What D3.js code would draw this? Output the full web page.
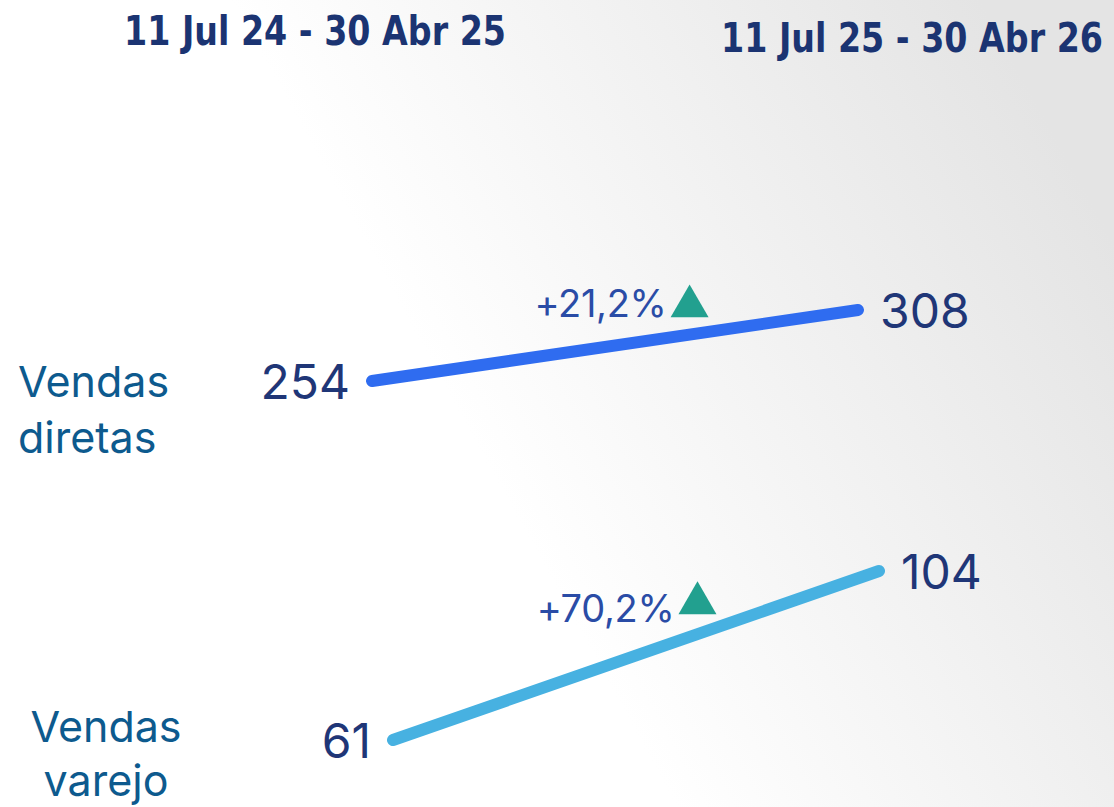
<!DOCTYPE html>
<html>
<head>
<meta charset="utf-8">
<script src="https://cdn.jsdelivr.net/npm/d3@7"></script>
<style>
  html, body { margin: 0; padding: 0; background: #fff; }
  svg { display: block; }
</style>
</head>
<body>
<div id="chart"></div>
<script>
// periods (column headers) and categories
const periods = ["11 Jul 24 - 30 Abr 25", "11 Jul 25 - 30 Abr 26"];
const categories = ["Vendas diretas", "Vendas varejo"];
const startValues = [254, 61];
const endValues = [308, 104];
const changeLabels = ["+21,2%", "+70,2%"];

const W = 1114, H = 807;
const lineColors = ["#2f6cf0", "#47b1e1"];

const svg = d3.select("#chart").append("svg")
    .attr("width", W).attr("height", H);

// background: white on the left fading to light grey on the right
const defs = svg.append("defs");
const grad = defs.append("linearGradient").attr("id", "bg")
    .attr("x1", "0").attr("y1", "0.7").attr("x2", "1").attr("y2", "0.3");
grad.append("stop").attr("offset", "0.42").attr("stop-color", "#ffffff");
grad.append("stop").attr("offset", "1").attr("stop-color", "#e4e4e4");
svg.append("rect").attr("width", W).attr("height", H).attr("fill", "url(#bg)");

// header x positions and line x positions
const xHead = d3.scalePoint().domain(periods).range([315, 912]);
const x = d3.scalePoint().domain(periods).range([372, 858]);
const xShift = [0, 21];

// each category gets its own vertical scale (panel)
const panelRange = [[381, 310], [740, 571]];
const yScales = categories.map((c, i) =>
  d3.scaleLinear().domain([startValues[i], endValues[i]]).range(panelRange[i]));

// column headers (squeezed horizontally to look condensed)
const headW = 382;
svg.selectAll("text.head").data(periods).join("text")
    .attr("class", "head")
    .attr("text-anchor", "middle")
    .attr("font-family", "'DejaVu Sans Condensed', 'DejaVu Sans', sans-serif")
    .attr("font-weight", "bold")
    .attr("font-size", 41)
    .attr("fill", "#1b3472")
    .text(d => d)
    .attr("transform", function(d, i) {
      const sx = headW / this.getComputedTextLength();
      return "translate(" + xHead(d) + "," + (i === 0 ? 45 : 52) + ") scale(" + sx + ",1)";
    });

const series = categories.map((c, i) => ({
  name: c,
  i: i,
  pts: [
    {p: periods[0], v: startValues[i]},
    {p: periods[1], v: endValues[i]}
  ]
}));

const line = (s) => d3.line()
    .x(d => x(d.p) + xShift[s.i])
    .y(d => yScales[s.i](d.v))(s.pts);

const g = svg.selectAll("g.series").data(series).join("g").attr("class", "series");

g.append("path")
    .attr("d", d => line(d))
    .attr("fill", "none")
    .attr("stroke", d => lineColors[d.i])
    .attr("stroke-width", 12)
    .attr("stroke-linecap", "round");

// value labels
g.append("text")
    .attr("x", d => x(periods[0]) + xShift[d.i] - 22)
    .attr("y", d => yScales[d.i](startValues[d.i]) + 18)
    .attr("text-anchor", "end")
    .attr("font-family", "Inter, 'Noto Sans', sans-serif")
    .attr("font-size", 48)
    .attr("fill", "#1f3677")
    .text(d => startValues[d.i]);

g.append("text")
    .attr("x", d => x(periods[1]) + xShift[d.i] + 22)
    .attr("y", d => yScales[d.i](endValues[d.i]) + 18)
    .attr("text-anchor", "start")
    .attr("font-family", "Inter, 'Noto Sans', sans-serif")
    .attr("font-size", 48)
    .attr("fill", "#1f3677")
    .text(d => endValues[d.i]);

// change labels with triangle
const at = [0.6, 0.573];
const mid = (d) => {
  const x0 = x(periods[0]) + xShift[d.i], x1 = x(periods[1]) + xShift[d.i];
  const y0 = yScales[d.i](startValues[d.i]), y1 = yScales[d.i](endValues[d.i]);
  return [x0 + (x1 - x0) * at[d.i], y0 + (y1 - y0) * at[d.i]];
};

g.append("text")
    .attr("x", d => mid(d)[0] + 3)
    .attr("y", d => mid(d)[1] - 21)
    .attr("text-anchor", "end")
    .attr("font-family", "Inter, 'Noto Sans', sans-serif")
    .attr("font-size", 38)
    .attr("letter-spacing", -0.3)
    .attr("fill", "#2a4ca6")
    .text(d => changeLabels[d.i]);

g.append("path")
    .attr("d", d3.symbol().type(d3.symbolTriangle).size(625))
    .attr("transform", d => {
      const m = mid(d);
      return "translate(" + (m[0] + 26) + "," + (m[1] - 21 - 11 - (d.i === 1 ? 8 : 0)) + ")";
    })
    .attr("fill", "#22a08f");

// category labels
const catLayout = [
  {x: 18, y: 397, anchor: "start", dy: 56},
  {x: 106, y: 742, anchor: "middle", dy: 54}
];
g.append("text")
    .attr("x", d => catLayout[d.i].x)
    .attr("y", d => catLayout[d.i].y)
    .attr("text-anchor", d => catLayout[d.i].anchor)
    .attr("font-family", "Inter, 'Noto Sans', sans-serif")
    .attr("font-size", 43)
    .attr("fill", "#0d5a8e")
    .selectAll("tspan")
    .data(d => d.name.split(" ").map(w => ({w, i: d.i})))
    .join("tspan")
    .attr("x", d => catLayout[d.i].x)
    .attr("dy", (d, k) => k === 0 ? 0 : catLayout[d.i].dy)
    .text(d => d.w);
</script>
</body>
</html>
